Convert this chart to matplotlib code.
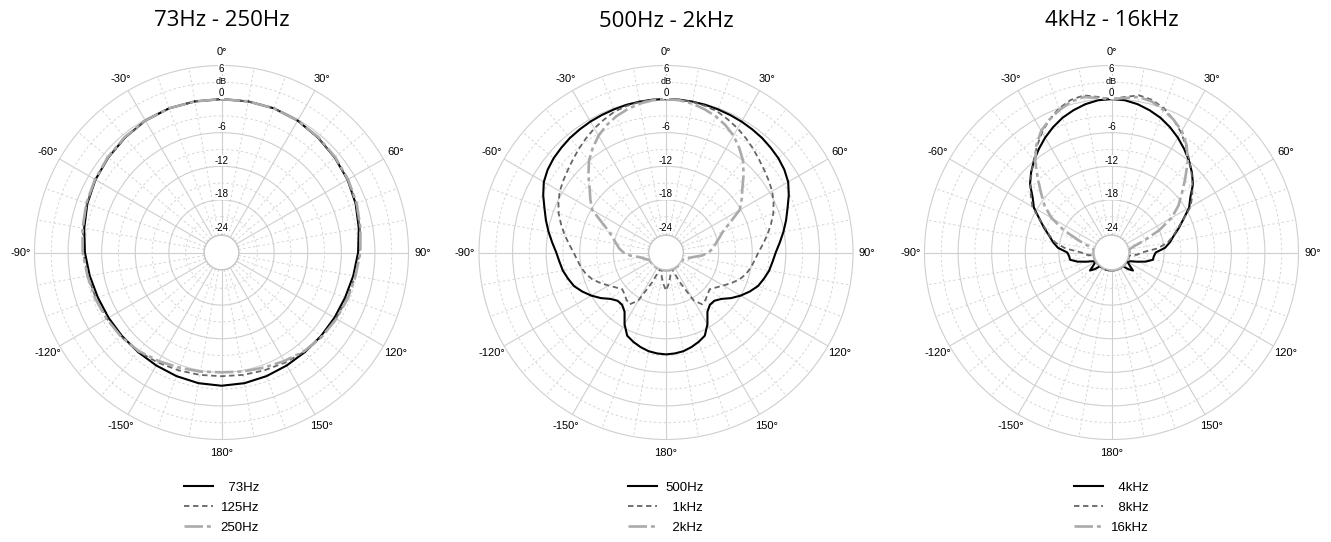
import numpy as np
import matplotlib.pyplot as plt

# polar response in dB, angles 0..180 deg (right half, mirrored for the left half)
ang10 = [0, 10, 20, 30, 40, 50, 60, 70, 80, 90, 100, 110, 120, 130, 140, 150, 160, 170, 180]
ang5 = list(range(0, 181, 5))

hz73 = [0, 0, 0, -0.2, -0.6, -1.0, -1.4, -1.9, -2.5, -3.0, -3.5, -3.9, -4.1, -4.2, -4.2, -4.1, -3.9, -3.7, -3.6]
hz125 = [0, 0, 0, -0.2, -0.6, -1.0, -1.4, -1.8, -2.3, -2.7, -3.2, -3.5, -3.8, -4.0, -4.3, -4.7, -5.0, -5.2, -5.3]
hz250 = [0, 0, 0, -0.2, -0.5, -0.9, -1.3, -1.7, -2.2, -2.6, -3.1, -3.4, -3.7, -4.0, -4.4, -5.0, -5.5, -5.8, -6.0]

hz500 = [0, 0, -0.05, -0.1, -0.2, -0.3, -0.4, -0.55, -0.7, -0.95, -1.2, -1.6, -2.2, -3.2, -4.3, -5.2,
         -6.1, -7.0, -7.8, -8.3, -8.7, -9.3, -9.9, -10.9, -12.0, -13.2, -14.5, -15.2, -15.2, -14.5,
         -12.6, -11.0, -10.4, -9.9, -9.5, -9.3, -9.2]
hz1k = [0, 0, -0.1, -0.3, -0.6, -1.2, -1.8, -2.5, -3.2, -3.9, -4.5, -5.0, -5.5, -6.2, -7.0, -8.0,
        -9.0, -10.0, -10.9, -11.5, -12.0, -12.6, -13.4, -14.5, -15.6, -16.5, -17.2, -16.9, -16.4, -16.1,
        -17.5, -21.5, -24.2, -24.2, -23.0, -21.8, -20.6]
hz2k = [0, -0.1, -0.4, -0.9, -1.5, -2.3, -3.3, -4.6, -6.0, -7.8, -9.6, -10.9, -12.2, -14.8, -16.6, -17.6,
        -18.4, -19.0, -19.8, -21.0, -22.6, -23.3, -23.8, -24.2, -24.2, -24.2, -24.2, -24.2, -24.2, -24.2,
        -24.2, -24.2, -24.2, -24.2, -24.2, -24.2, -24.2]

hz4k = [0, -0.1, -0.5, -1.1, -1.8, -2.7, -3.7, -4.8, -5.9, -7.1, -8.4, -10.2, -11.4, -13.2, -14.6, -15.9,
        -16.8, -17.8, -19.5, -19.8, -19.9, -21.1, -22.6, -23.7, -24.1, -23.5, -22.4, -23.2, -24.2, -24.2,
        -24.2, -24.2, -24.2, -24.2, -24.2, -24.2, -24.2]
hz8k = [0, 0.5, 1.1, 0.8, 0, -1.2, -2.6, -4.2, -5.8, -7.2, -8.5, -9.8, -11.1, -13.2, -14.8, -16.0,
        -17.2, -19.2, -22.0, -22.8, -24.2, -24.2, -24.2, -24.2, -24.2, -24.2, -24.2, -24.2, -24.2, -24.2,
        -24.2, -24.2, -24.2, -24.2, -24.2, -24.2, -24.2]
hz16k = [0, 0.3, 0.8, 0.5, -0.3, -1.2, -2.3, -4.0, -6.2, -8.8, -11.0, -12.8, -15.0, -18.0, -21.3, -23.3,
         -24.2, -24.2, -24.2, -24.2, -24.2, -24.2, -24.2, -24.2, -24.2, -24.2, -24.2, -24.2, -24.2, -24.2,
         -24.2, -24.2, -24.2, -24.2, -24.2, -24.2, -24.2]

titles = ["73Hz - 250Hz", "500Hz - 2kHz", "4kHz - 16kHz"]
groups = [
    (ang10, [hz73, hz125, hz250], ["\u200773Hz", "125Hz", "250Hz"]),
    (ang5, [hz500, hz1k, hz2k], ["500Hz", "\u20071kHz", "\u20072kHz"]),
    (ang5, [hz4k, hz8k, hz16k], ["\u20074kHz", "\u20078kHz", "16kHz"]),
]
styles = [
    dict(color="black", lw=1.5, ls="-"),
    dict(color="#666666", lw=1.3, ls=(0, (3, 2))),
    dict(color="#aaaaaa", lw=1.9, ls=(0, (7, 1.5, 1.5, 1.5))),
]

angle_labels = ["0°", "30°", "60°", "90°", "120°", "150°", "180°", "-150°", "-120°", "-90°", "-60°", "-30°"]
db_labels = ["6", "0", "-6", "-12", "-18", "-24"]
db_values = [6, 0, -6, -12, -18, -24]

W, H = 1331, 542
fig = plt.figure(figsize=(W / 100, H / 100), dpi=100)

centers = [221.5, 666, 1111.5]
R = 187
cy = 252.5
grid_c = "#cfcfcf"

for i in range(3):
    ang, curves, labels = groups[i]
    ax = fig.add_axes([(centers[i] - R) / W, (H - cy - R) / H, 2 * R / W, 2 * R / H],
                      projection="polar")
    ax.set_theta_zero_location("N")
    ax.set_theta_direction(-1)
    ax.set_rorigin(-27.4)
    ax.set_ylim(-24.3, 6)

    a = np.array(ang, dtype=float)
    for vals, st, lab in zip(curves, styles, labels):
        v = np.array(vals, dtype=float)
        th = np.deg2rad(np.concatenate([a, 360 - a[::-1]]))
        r = np.concatenate([v, v[::-1]])
        ax.plot(th, r, label=lab, solid_joinstyle="round", **st)

    # grid
    ax.set_xticks(np.deg2rad(np.arange(0, 360, 30)))
    ax.set_xticklabels(angle_labels, fontsize=8, family="Liberation Sans")
    ax.set_xticks(np.deg2rad([a for a in range(0, 360, 10) if a % 30]), minor=True)
    ax.set_yticks([-18, -12, -6, 0])
    ax.set_yticks([-21, -15, -9, -3, 3], minor=True)
    ax.set_yticklabels([])
    ax.tick_params(axis="both", which="both", length=0)
    ax.tick_params(axis="x", pad=3)
    ax.grid(which="major", color=grid_c, lw=0.8, ls="-")
    ax.grid(which="minor", color="#d6d6d6", lw=0.7, ls=(0, (2.5, 2.5)))
    ax.spines["polar"].set_color(grid_c)
    ax.spines["polar"].set_linewidth(0.8)
    ax.spines["inner"].set_color("#c4c4c4")
    ax.spines["inner"].set_linewidth(1.0)

    for lab, val in zip(db_labels, db_values):
        pos = val + 1.0 if val < 6 else 5.4
        ax.text(0, pos, lab, ha="center", va="center", fontsize=7, family="Liberation Sans",
                bbox=dict(facecolor="white", edgecolor="none", pad=0.2), zorder=5)
    ax.text(0, 3.2, "dB", ha="center", va="center", fontsize=6.5, family="Liberation Sans",
            bbox=dict(facecolor="white", edgecolor="none", pad=0.2), zorder=5)

    ax.text(0.5, 1 + (cy - R - 21) / (2 * R), titles[i], transform=ax.transAxes,
            ha="center", va="center", fontsize=16, family="Open Sans")

    ax.legend(loc="upper center", bbox_to_anchor=(0.5, -0.095), frameon=False,
              prop={"family": "Liberation Sans", "size": 9.5},
              handlelength=2.2, handletextpad=0.6, labelspacing=0.58, borderpad=0)

fig.savefig("out.png", dpi=100)
